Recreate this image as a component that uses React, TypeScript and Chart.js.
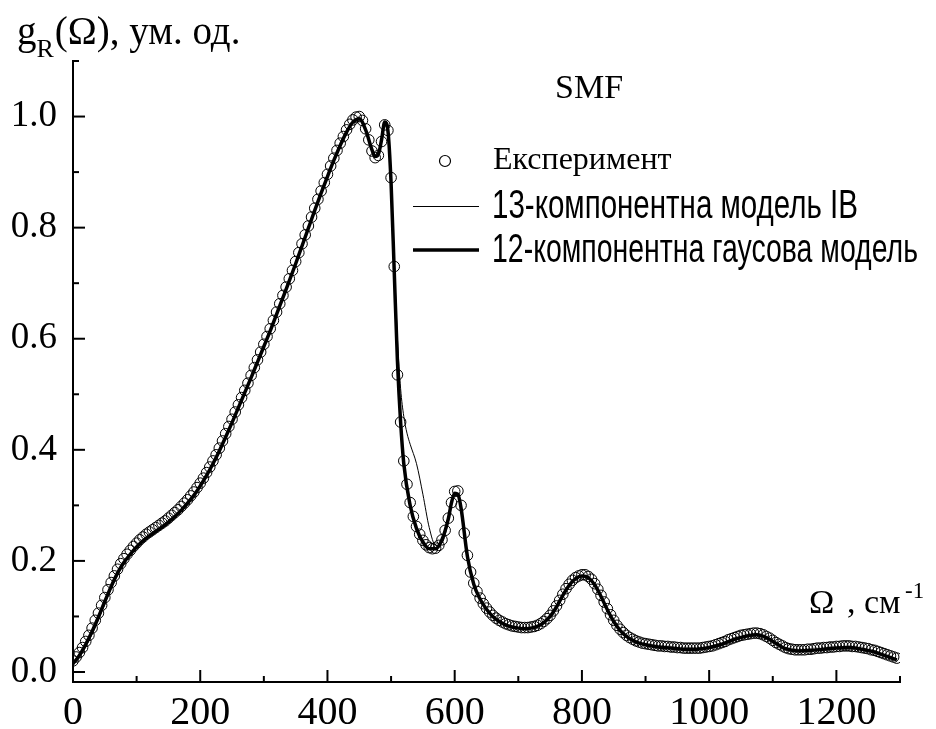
import React, { useEffect, useRef } from "react";
import { Chart, registerables } from "chart.js";

Chart.register(...registerables);

// Experimental points (wavenumber, cm^-1)
const expX = [
  0, 5, 10, 15, 20, 25, 30, 35, 40, 45, 50, 55, 60, 65, 70, 75, 80, 85, 90, 95,
  100, 105, 110, 115, 120, 125, 130, 135, 140, 145, 150, 155, 160, 165, 170, 175, 180, 185, 190, 195,
  200, 205, 210, 215, 220, 225, 230, 235, 240, 245, 250, 255, 260, 265, 270, 275, 280, 285, 290, 295,
  300, 305, 310, 315, 320, 325, 330, 335, 340, 345, 350, 355, 360, 365, 370, 375, 380, 385, 390, 395,
  400, 405, 410, 415, 420, 425, 430, 435, 440, 445, 450, 455, 460, 465, 470, 475, 480, 485, 490, 495,
  500, 505, 510, 515, 520, 525, 530, 535, 540, 545, 550, 555, 560, 565, 570, 575, 580, 585, 590, 595,
  600, 605, 610, 615, 620, 625, 630, 635, 640, 645, 650, 655, 660, 665, 670, 675, 680, 685, 690, 695,
  700, 705, 710, 715, 720, 725, 730, 735, 740, 745, 750, 755, 760, 765, 770, 775, 780, 785, 790, 795,
  800, 805, 810, 815, 820, 825, 830, 835, 840, 845, 850, 855, 860, 865, 870, 875, 880, 885, 890, 895,
  900, 905, 910, 915, 920, 925, 930, 935, 940, 945, 950, 955, 960, 965, 970, 975, 980, 985, 990, 995,
  1000, 1005, 1010, 1015, 1020, 1025, 1030, 1035, 1040, 1045, 1050, 1055, 1060, 1065, 1070, 1075, 1080, 1085, 1090, 1095,
  1100, 1105, 1110, 1115, 1120, 1125, 1130, 1135, 1140, 1145, 1150, 1155, 1160, 1165, 1170, 1175, 1180, 1185, 1190, 1195,
  1200, 1205, 1210, 1215, 1220, 1225, 1230, 1235, 1240, 1245, 1250, 1255, 1260, 1265, 1270, 1275, 1280, 1285, 1290, 1295,
];
const expY = [
  0.020, 0.027, 0.035, 0.044, 0.055, 0.066, 0.079, 0.093, 0.106, 0.120, 0.134, 0.148, 0.161, 0.173, 0.185, 0.195, 0.204, 0.212, 0.219, 0.226,
  0.232, 0.238, 0.243, 0.248, 0.252, 0.256, 0.260, 0.264, 0.268, 0.272, 0.277, 0.282, 0.287, 0.292, 0.298, 0.304, 0.310, 0.317, 0.324, 0.332,
  0.340, 0.349, 0.359, 0.369, 0.380, 0.391, 0.403, 0.416, 0.429, 0.442, 0.455, 0.468, 0.481, 0.494, 0.507, 0.520, 0.534, 0.548, 0.562, 0.576,
  0.590, 0.604, 0.618, 0.633, 0.648, 0.663, 0.678, 0.693, 0.708, 0.723, 0.739, 0.755, 0.771, 0.787, 0.803, 0.819, 0.835, 0.851, 0.866, 0.881,
  0.896, 0.911, 0.925, 0.939, 0.952, 0.964, 0.976, 0.986, 0.994, 0.999, 1.000, 0.993, 0.978, 0.958, 0.938, 0.926, 0.930, 0.955, 0.985, 0.975,
  0.890, 0.730, 0.535, 0.450, 0.380, 0.338, 0.305, 0.280, 0.262, 0.248, 0.237, 0.229, 0.224, 0.222, 0.223, 0.228, 0.238, 0.255, 0.277, 0.305,
  0.325, 0.326, 0.300, 0.250, 0.210, 0.180, 0.160, 0.145, 0.133, 0.123, 0.115, 0.108, 0.102, 0.097, 0.093, 0.090, 0.087, 0.085, 0.083, 0.082,
  0.081, 0.080, 0.080, 0.080, 0.081, 0.082, 0.084, 0.087, 0.091, 0.096, 0.102, 0.110, 0.119, 0.129, 0.140, 0.150, 0.158, 0.165, 0.170, 0.173,
  0.175, 0.175, 0.172, 0.167, 0.159, 0.149, 0.138, 0.126, 0.114, 0.103, 0.093, 0.084, 0.077, 0.071, 0.066, 0.062, 0.059, 0.056, 0.054, 0.052,
  0.051, 0.050, 0.049, 0.048, 0.047, 0.047, 0.046, 0.046, 0.045, 0.045, 0.044, 0.044, 0.043, 0.043, 0.043, 0.043, 0.043, 0.043, 0.044, 0.045,
  0.046, 0.047, 0.049, 0.051, 0.053, 0.055, 0.058, 0.060, 0.062, 0.064, 0.066, 0.067, 0.068, 0.069, 0.070, 0.070, 0.069, 0.067, 0.064, 0.061,
  0.057, 0.053, 0.050, 0.047, 0.044, 0.042, 0.041, 0.040, 0.040, 0.040, 0.040, 0.041, 0.041, 0.042, 0.043, 0.043, 0.044, 0.044, 0.045, 0.045,
  0.046, 0.046, 0.047, 0.047, 0.047, 0.046, 0.046, 0.045, 0.044, 0.043, 0.042, 0.040, 0.039, 0.037, 0.035, 0.033, 0.031, 0.029, 0.027, 0.025,
];

// 13-component IB model (thin line)
const ibX = [
  0, 10, 20, 30, 40, 50, 60, 70, 80, 90,
  100, 110, 120, 130, 140, 150, 160, 170, 180, 190,
  200, 210, 220, 230, 240, 250, 260, 270, 280, 290,
  300, 310, 320, 330, 340, 350, 360, 370, 380, 390,
  400, 410, 420, 430, 440, 450, 460, 470, 475, 480,
  485, 490, 495, 500, 505, 510, 515, 520, 525, 530,
  540, 550, 560, 570, 580, 590, 600, 605, 610, 620,
  630, 640, 650, 660, 670, 680, 690, 700, 710, 720,
  730, 740, 750, 760, 770, 780, 790, 800, 810, 820,
  830, 840, 850, 860, 870, 880, 890, 900, 920, 940,
  960, 980, 1000, 1020, 1040, 1060, 1075, 1090, 1100, 1110,
  1120, 1140, 1160, 1180, 1200, 1220, 1240, 1260, 1280, 1295,
];
const ibY = [
  0.012, 0.026, 0.045, 0.068, 0.094, 0.122, 0.150, 0.175, 0.195, 0.211,
  0.224, 0.235, 0.244, 0.252, 0.260, 0.269, 0.279, 0.290, 0.303, 0.317,
  0.334, 0.353, 0.374, 0.397, 0.422, 0.448, 0.475, 0.502, 0.530, 0.558,
  0.586, 0.615, 0.645, 0.675, 0.706, 0.737, 0.769, 0.801, 0.833, 0.864,
  0.894, 0.923, 0.950, 0.974, 0.991, 0.995, 0.975, 0.942, 0.930, 0.935,
  0.960, 0.985, 0.965, 0.880, 0.740, 0.600, 0.510, 0.460, 0.430, 0.410,
  0.375, 0.320, 0.260, 0.228, 0.232, 0.270, 0.318, 0.318, 0.292, 0.210,
  0.160, 0.132, 0.114, 0.101, 0.092, 0.086, 0.082, 0.080, 0.079, 0.080,
  0.083, 0.090, 0.101, 0.118, 0.139, 0.157, 0.169, 0.174, 0.171, 0.158,
  0.137, 0.113, 0.092, 0.076, 0.065, 0.058, 0.053, 0.050, 0.046, 0.044,
  0.042, 0.042, 0.045, 0.051, 0.060, 0.066, 0.068, 0.063, 0.056, 0.049,
  0.043, 0.039, 0.040, 0.042, 0.044, 0.045, 0.042, 0.037, 0.029, 0.023,
];

// 12-component Gaussian model (thick line)
const gaussX = [
  0, 10, 20, 30, 40, 50, 60, 70, 80, 90,
  100, 110, 120, 130, 140, 150, 160, 170, 180, 190,
  200, 210, 220, 230, 240, 250, 260, 270, 280, 290,
  300, 310, 320, 330, 340, 350, 360, 370, 380, 390,
  400, 410, 420, 430, 440, 450, 460, 470, 475, 480,
  485, 490, 495, 500, 505, 510, 515, 520, 530, 540,
  550, 560, 570, 580, 590, 595, 600, 605, 610, 620,
  630, 640, 650, 660, 670, 680, 690, 700, 710, 720,
  730, 740, 750, 760, 770, 780, 790, 800, 810, 820,
  830, 840, 850, 860, 870, 880, 890, 900, 920, 940,
  960, 980, 1000, 1020, 1040, 1060, 1075, 1090, 1100, 1110,
  1120, 1140, 1160, 1180, 1200, 1220, 1240, 1260, 1280, 1295,
];
const gaussY = [
  0.015, 0.030, 0.050, 0.073, 0.099, 0.127, 0.154, 0.178, 0.197, 0.212,
  0.225, 0.236, 0.245, 0.253, 0.261, 0.270, 0.280, 0.291, 0.304, 0.318,
  0.335, 0.354, 0.375, 0.398, 0.423, 0.449, 0.476, 0.503, 0.530, 0.558,
  0.586, 0.614, 0.644, 0.674, 0.704, 0.735, 0.767, 0.799, 0.831, 0.862,
  0.892, 0.921, 0.948, 0.972, 0.990, 0.996, 0.976, 0.940, 0.928, 0.932,
  0.958, 0.990, 0.975, 0.880, 0.720, 0.560, 0.450, 0.375, 0.300, 0.258,
  0.234, 0.222, 0.222, 0.238, 0.276, 0.305, 0.322, 0.320, 0.295, 0.208,
  0.158, 0.131, 0.113, 0.100, 0.091, 0.085, 0.081, 0.079, 0.078, 0.079,
  0.082, 0.089, 0.100, 0.117, 0.138, 0.156, 0.168, 0.173, 0.170, 0.157,
  0.136, 0.112, 0.091, 0.075, 0.064, 0.057, 0.052, 0.049, 0.045, 0.043,
  0.041, 0.041, 0.044, 0.050, 0.059, 0.065, 0.067, 0.062, 0.055, 0.048,
  0.042, 0.038, 0.039, 0.041, 0.043, 0.044, 0.041, 0.036, 0.028, 0.022,
];

const xTicks = [0, 100, 200, 300, 400, 500, 600, 700, 800, 900, 1000, 1100, 1200, 1300];
const xLabels = [0, 200, 400, 600, 800, 1000, 1200];
const yTicks = [0, 0.1, 0.2, 0.3, 0.4, 0.5, 0.6, 0.7, 0.8, 0.9, 1.0, 1.1];
const yLabels = [0, 0.2, 0.4, 0.6, 0.8, 1.0];

const legendLabels = ["Експеримент", "13-компонентна модель IB", "12-компонентна гаусова модель"];
const SERIF = "'Liberation Serif', 'Times New Roman', serif";
const SANS = "'Liberation Sans', Arial, sans-serif";

const near = (a: number, b: number) => Math.abs(a - b) < 1e-6;

const decorPlugin = {
  id: "decor",
  afterDraw(chart: any) {
    const ctx = chart.ctx as CanvasRenderingContext2D;
    const xs = chart.scales.x;
    const ys = chart.scales.y;
    const area = chart.chartArea;
    ctx.save();
    ctx.strokeStyle = "#000";
    ctx.fillStyle = "#000";
    ctx.lineWidth = 2;
    // inward ticks
    for (const v of xTicks) {
      const px = xs.getPixelForValue(v);
      const len = xLabels.some((l) => near(l, v)) ? 12 : 6;
      ctx.beginPath();
      ctx.moveTo(px, area.bottom);
      ctx.lineTo(px, area.bottom - len);
      ctx.stroke();
    }
    for (const v of yTicks) {
      const py = ys.getPixelForValue(v);
      const len = yLabels.some((l) => near(l, v)) ? 12 : 6;
      ctx.beginPath();
      ctx.moveTo(area.left, py);
      ctx.lineTo(area.left + len, py);
      ctx.stroke();
    }

    // y title: g_R(Ω), ум. од.
    ctx.textBaseline = "alphabetic";
    ctx.textAlign = "left";
    ctx.font = `39px ${SERIF}`;
    ctx.fillText("g", 17, 44);
    const gw = ctx.measureText("g").width;
    ctx.font = `26px ${SERIF}`;
    ctx.fillText("R", 17 + gw, 57);
    const rw = ctx.measureText("R").width;
    ctx.font = `39px ${SERIF}`;
    ctx.fillText("(Ω), ум. од.", 17 + gw + rw + 1, 44);

    // SMF
    ctx.font = `34px ${SERIF}`;
    ctx.fillText("SMF", 555, 98);

    // legend
    ctx.lineWidth = 1.2;
    ctx.beginPath();
    ctx.arc(445, 161, 5.5, 0, Math.PI * 2);
    ctx.stroke();
    ctx.font = `32px ${SERIF}`;
    ctx.fillText(legendLabels[0], 493, 169);

    ctx.lineWidth = 1;
    ctx.beginPath();
    ctx.moveTo(413, 206.5);
    ctx.lineTo(479, 206.5);
    ctx.stroke();
    ctx.lineWidth = 3.5;
    ctx.beginPath();
    ctx.moveTo(413, 250);
    ctx.lineTo(479, 250);
    ctx.stroke();

    const drawCondensed = (text: string, x: number, yBase: number, targetW: number) => {
      ctx.font = `40px ${SANS}`;
      const w = ctx.measureText(text).width;
      ctx.save();
      ctx.translate(x, yBase);
      ctx.scale(targetW / w, 1);
      ctx.fillText(text, 0, 0);
      ctx.restore();
    };
    drawCondensed(legendLabels[1], 492, 218, 366);
    drawCondensed(legendLabels[2], 492, 262, 426);

    // x title: Ω , см^-1
    ctx.font = `34px ${SERIF}`;
    ctx.fillText("Ω", 809, 613);
    ctx.fillText(", см", 847, 613);
    ctx.font = `23px ${SERIF}`;
    ctx.fillText("-1", 905, 598);
    ctx.restore();
  },
};

export default function App() {
  const canvasRef = useRef<HTMLCanvasElement | null>(null);

  useEffect(() => {
    const canvas = canvasRef.current;
    if (!canvas) return;
    const toPts = (xa: number[], ya: number[]) => xa.map((x, i) => ({ x, y: ya[i] }));
    const chart = new Chart(canvas, {
      type: "scatter",
      data: {
        datasets: [
          {
            label: legendLabels[0],
            data: toPts(expX, expY),
            showLine: false,
            pointStyle: "circle",
            pointRadius: 5.3,
            pointBorderWidth: 1,
            pointBorderColor: "#000",
            pointBackgroundColor: "rgba(0,0,0,0)",
            order: 3,
          },
          {
            label: legendLabels[1],
            data: toPts(ibX, ibY),
            showLine: true,
            borderColor: "#000",
            borderWidth: 1,
            pointRadius: 0,
            cubicInterpolationMode: "monotone",
            order: 2,
          },
          {
            label: legendLabels[2],
            data: toPts(gaussX, gaussY),
            showLine: true,
            borderColor: "#000",
            borderWidth: 3.5,
            pointRadius: 0,
            cubicInterpolationMode: "monotone",
            order: 1,
          },
        ],
      },
      options: {
        animation: false,
        responsive: false,
        devicePixelRatio: 1,
        layout: { padding: { left: 0, top: 61, right: 36, bottom: 0 } },
        plugins: { legend: { display: false }, tooltip: { enabled: false } },
        scales: {
          x: {
            type: "linear",
            min: 0,
            max: 1300,
            grid: { display: false },
            border: { display: true, color: "#000", width: 2 },
            afterBuildTicks: (s: any) => {
              s.ticks = xTicks.map((v) => ({ value: v }));
            },
            afterFit: (s: any) => {
              s.height = 47;
            },
            ticks: {
              autoSkip: false,
              maxRotation: 0,
              padding: 1,
              color: "#000",
              font: { family: SERIF, size: 40, lineHeight: 1.1 },
              callback: (v: any) => (xLabels.some((l) => near(l, Number(v))) ? String(v) : ""),
            },
          },
          y: {
            type: "linear",
            min: -0.018,
            max: 1.1,
            grid: { display: false },
            border: { display: true, color: "#000", width: 2 },
            afterBuildTicks: (s: any) => {
              s.ticks = yTicks.map((v) => ({ value: v }));
            },
            afterFit: (s: any) => {
              s.width = 73;
            },
            ticks: {
              autoSkip: false,
              padding: 8,
              color: "#000",
              font: { family: SERIF, size: 37 },
              callback: (v: any) => (yLabels.some((l) => near(l, Number(v))) ? Number(v).toFixed(1) : ""),
            },
          },
        },
      },
      plugins: [decorPlugin],
    } as any);
    return () => chart.destroy();
  }, []);

  return (
    <div style={{ position: "absolute", left: 0, top: 0, width: 936, height: 729, background: "#fff" }}>
      <canvas ref={canvasRef} width={936} height={729} style={{ display: "block" }} />
    </div>
  );
}
